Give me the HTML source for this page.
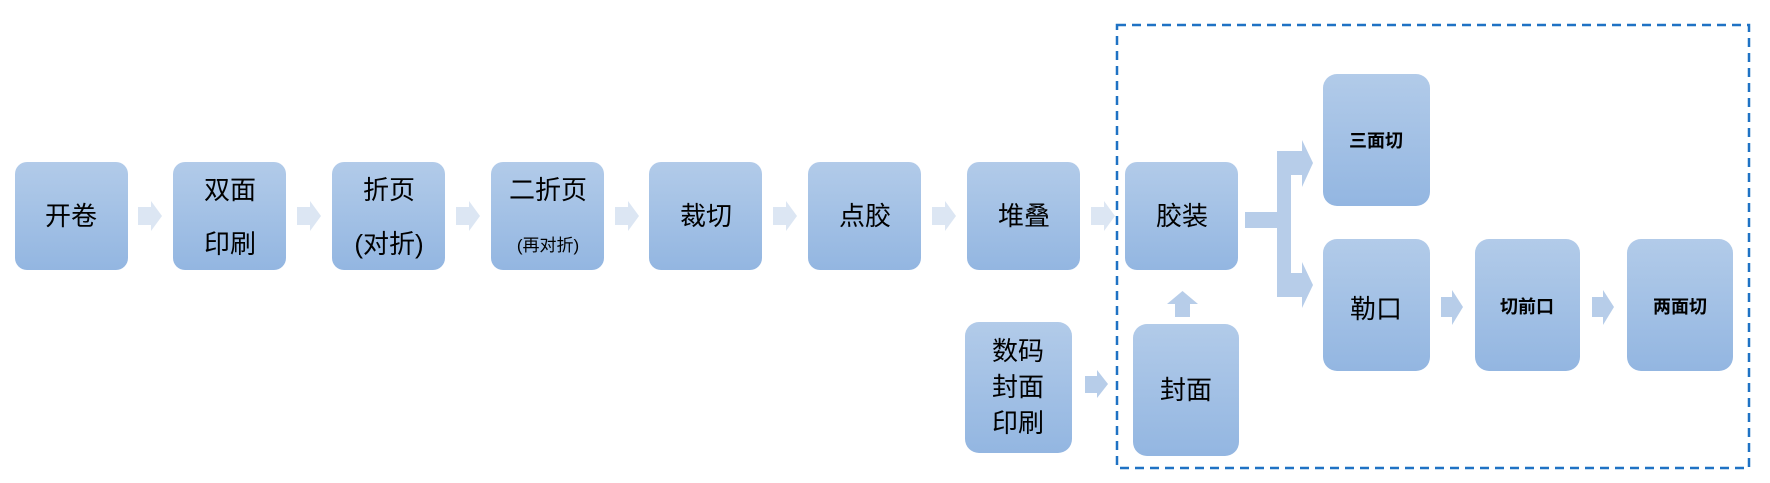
<!DOCTYPE html>
<html><head><meta charset="utf-8"><style>
body{margin:0;background:#fff;}
svg text{font-family:"Liberation Sans","Noto Sans CJK SC",sans-serif;fill:#000;}
</style></head><body>
<svg width="1770" height="478" viewBox="0 0 1770 478" xmlns="http://www.w3.org/2000/svg">
<defs>
<linearGradient id="g" x1="0" y1="0" x2="0" y2="1">
<stop offset="0" stop-color="#b2cbe9"/><stop offset="1" stop-color="#93b6e1"/>
</linearGradient>
</defs>
<rect x="1117" y="25" width="632" height="443" fill="none" stroke="#1f72c4" stroke-width="2.5" stroke-dasharray="9,6"/>
<g fill="url(#g)">
<rect x="15" y="162" width="113" height="108" rx="12"/>
<rect x="173" y="162" width="113" height="108" rx="12"/>
<rect x="332" y="162" width="113" height="108" rx="12"/>
<rect x="491" y="162" width="113" height="108" rx="12"/>
<rect x="649" y="162" width="113" height="108" rx="12"/>
<rect x="808" y="162" width="113" height="108" rx="12"/>
<rect x="967" y="162" width="113" height="108" rx="12"/>
<rect x="1125" y="162" width="113" height="108" rx="12"/>
<rect x="965" y="322" width="107" height="131" rx="14"/>
<rect x="1133" y="324" width="106" height="132" rx="14"/>
<rect x="1323" y="74" width="107" height="132" rx="14"/>
<rect x="1323" y="239" width="107" height="132" rx="14"/>
<rect x="1475" y="239" width="105" height="132" rx="14"/>
<rect x="1627" y="239" width="106" height="132" rx="14"/>
</g>
<g fill="#dce6f3">
<polygon points="138,207 151,207 151,201 162,216 151,231 151,225 138,225"/>
<polygon points="297,207 310,207 310,201 321,216 310,231 310,225 297,225"/>
<polygon points="456,207 469,207 469,201 480,216 469,231 469,225 456,225"/>
<polygon points="615,207 628,207 628,201 639,216 628,231 628,225 615,225"/>
<polygon points="773,207 786,207 786,201 797,216 786,231 786,225 773,225"/>
<polygon points="932,207 945,207 945,201 956,216 945,231 945,225 932,225"/>
<polygon points="1091,207 1104,207 1104,201 1115,216 1104,231 1104,225 1091,225"/>
</g>
<g fill="#b7cde9">
<polygon points="1085,376 1097,376 1097,370 1108,384 1097,398 1097,393 1085,393"/>
<polygon points="1175,317 1175,304 1167,304 1182.5,291 1198,304 1190,304 1190,317"/>
<rect x="1245" y="212" width="33" height="16"/>
<rect x="1277" y="151" width="14" height="146"/>
<polygon points="1277,151 1302,151 1302,140 1313,163 1302,187 1302,175 1277,175"/>
<polygon points="1277,273 1302,273 1302,262 1313,285 1302,308 1302,297 1277,297"/>
<polygon points="1441,297 1452,297 1452,290 1463,307 1452,325 1452,317 1441,317"/>
<polygon points="1592,297 1603,297 1603,290 1614,307 1603,325 1603,317 1592,317"/>
</g>
<g font-size="26" text-anchor="middle">
<text x="71" y="225">开卷</text>
<text x="230" y="199">双面</text>
<text x="230" y="253">印刷</text>
<text x="389" y="199">折页</text>
<text x="389" y="253">(对折)</text>
<text x="548" y="199">二折页</text>
<text x="548" y="251" font-size="17">(再对折)</text>
<text x="706" y="225">裁切</text>
<text x="865" y="225">点胶</text>
<text x="1024" y="225">堆叠</text>
<text x="1182" y="225">胶装</text>
<text x="1018" y="360">数码</text>
<text x="1018" y="396">封面</text>
<text x="1018" y="432">印刷</text>
<text x="1186" y="399">封面</text>
<text x="1376" y="318">勒口</text>
</g>
<g font-size="18" font-weight="bold" text-anchor="middle">
<text x="1376" y="147">三面切</text>
<text x="1527" y="313">切前口</text>
<text x="1680" y="313">两面切</text>
</g>
</svg>
</body></html>
